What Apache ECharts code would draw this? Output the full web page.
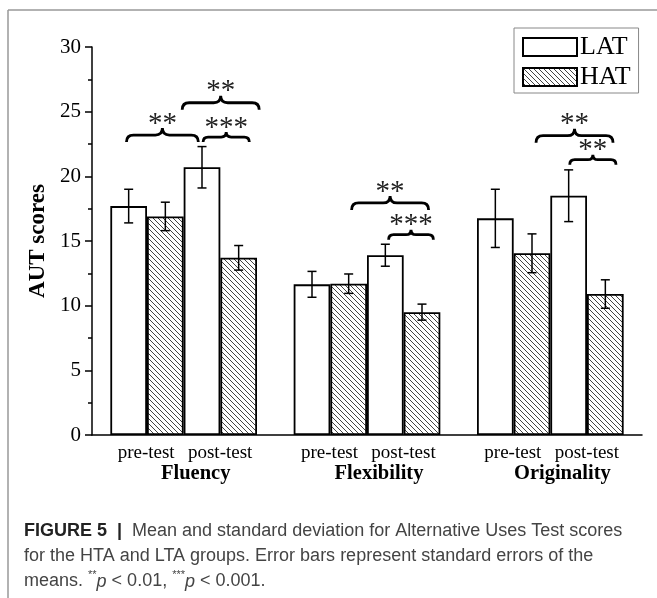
<!DOCTYPE html>
<html>
<head>
<meta charset="utf-8">
<script src="https://cdn.jsdelivr.net/npm/echarts@6/dist/echarts.min.js"></script>
<style>
  html, body { margin: 0; padding: 0; background: #fff; }
  #chart { width: 657px; height: 598px; }
</style>
</head>
<body>
<div id="chart"></div>
<script>
// Alternative Uses Test scores by dimension, session and group
const groups = ['Fluency', 'Flexibility', 'Originality'];
const sessions = ['pre-test', 'post-test'];

const latPre = [17.7, 11.65, 16.75];
const latPreErr = [1.3, 1.0, 2.25];
const hatPre = [16.9, 11.7, 14.05];
const hatPreErr = [1.1, 0.75, 1.5];
const latPost = [20.7, 13.9, 18.5];
const latPostErr = [1.6, 0.85, 2.0];
const hatPost = [13.7, 9.5, 10.9];
const hatPostErr = [0.95, 0.62, 1.1];

const yMin = 0, yMax = 30, yStep = 5;

// Significance braces: group, start/end (in bar widths from the group's left edge), height of the tips, stars
const sigGroup = [0, 0, 0, 1, 1, 2, 2];
const sigFrom = [0.44, 2.53, 1.96, 1.58, 2.59, 1.61, 2.53];
const sigTo = [2.4, 3.79, 4.06, 3.68, 3.81, 3.71, 3.79];
const sigLevel = [22.65, 22.65, 25.15, 17.4, 15.1, 22.6, 20.9];
const sigText = ['**', '***', '**', '**', '***', '**', '**'];

const SERIF = '"Liberation Serif", "Times New Roman", serif';
const SANS = '"Liberation Sans", Arial, sans-serif';

// Diagonal hatch used for the HAT group
function makeHatch() {
  const s = 5;
  const c = document.createElement('canvas');
  c.width = s; c.height = s;
  const g = c.getContext('2d');
  g.fillStyle = '#fff';
  g.fillRect(0, 0, s, s);
  g.strokeStyle = '#444';
  g.lineWidth = 1;
  g.beginPath();
  for (let k = -1; k <= 1; k++) {
    g.moveTo(k * s - 1, -1);
    g.lineTo(k * s + s + 1, s + 1);
  }
  g.stroke();
  return c;
}
const hatch = { image: makeHatch(), repeat: 'repeat' };

const barStyleLAT = { color: '#fff', borderColor: '#000', borderWidth: 1.8 };
const barStyleHAT = { color: hatch, borderColor: '#000', borderWidth: 1.8 };

// bar slot k (0..3) within a group: LAT pre, HAT pre, LAT post, HAT post
const barSeries = [
  { name: 'LAT', values: latPre, style: barStyleLAT },
  { name: 'HAT', values: hatPre, style: barStyleHAT },
  { name: 'LAT', values: latPost, style: barStyleLAT },
  { name: 'HAT', values: hatPost, style: barStyleHAT }
];
const barErrs = [latPreErr, hatPreErr, latPostErr, hatPostErr];

const errData = [];
barSeries.forEach((s, k) => {
  s.values.forEach((v, i) => {
    errData.push([i, k, v - barErrs[k][i], v + barErrs[k][i]]);
  });
});

const CAT_GAP = 0.2;            // barCategoryGap
const SLOT = (1 - CAT_GAP) / 4; // one bar's share of the band

function slotX(api, gi, u) {
  const c = api.coord([gi, 0])[0];
  const band = api.size([1, 0])[0];
  return c + (u - 2) * SLOT * band;
}

const option = {
  animation: false,
  backgroundColor: '#fff',
  grid: { left: 92, right: 15, top: 47, bottom: 163, outerBoundsMode: 'none', containLabel: false },
  legend: {
    data: ['LAT', 'HAT'],
    orient: 'vertical',
    left: 514,
    top: 28,
    padding: [6, 8, 3, 8],
    itemGap: 4,
    itemWidth: 54,
    itemHeight: 18,
    icon: 'rect',
    borderColor: '#888',
    borderWidth: 1,
    selectedMode: false,
    textStyle: { fontFamily: SERIF, fontSize: 26, color: '#000', padding: [0, 0, 0, -2] }
  },
  xAxis: {
    type: 'category',
    data: groups,
    axisLine: { lineStyle: { color: '#000', width: 1.5 } },
    axisTick: { alignWithLabel: true, length: 8, lineStyle: { color: '#000', width: 1.5 } },
    axisLabel: {
      margin: 8,
      interval: 0,
      formatter: (v) => `{p|${sessions[0]}}{s|}{q|${sessions[1]}}\n{g|${v}}`,
      rich: {
        p: { width: 65, align: 'right', fontFamily: SERIF, fontSize: 19, color: '#000', lineHeight: 20 },
        s: { width: 8 },
        q: { width: 67, align: 'left', fontFamily: SERIF, fontSize: 19, color: '#000', lineHeight: 20 },
        g: { fontFamily: SERIF, fontSize: 20.5, fontWeight: 'bold', color: '#000', lineHeight: 21, padding: [0, 0, 0, 24] }
      }
    }
  },
  yAxis: {
    type: 'value',
    min: yMin,
    max: yMax,
    interval: yStep,
    name: 'AUT scores',
    nameLocation: 'middle',
    nameRotate: 90,
    nameGap: 42,
    nameTextStyle: { fontFamily: SERIF, fontSize: 23, fontWeight: 'bold', color: '#000' },
    axisLine: { show: true, lineStyle: { color: '#000', width: 1.5 } },
    axisTick: { show: true, inside: false, length: 7, lineStyle: { color: '#000', width: 1.5 } },
    minorTick: { show: true, splitNumber: 2, length: 4, lineStyle: { color: '#000', width: 1.5 } },
    splitLine: { show: false },
    axisLabel: { margin: 11, fontFamily: SERIF, fontSize: 21, color: '#000' }
  },
  series: [
    ...barSeries.map((s) => ({
      type: 'bar',
      name: s.name,
      data: s.values,
      itemStyle: s.style,
      barGap: '0%',
      barCategoryGap: (CAT_GAP * 100) + '%',
      z: 2
    })),
    {
      type: 'custom',
      name: 'error',
      z: 5,
      clip: false,
      data: errData,
      encode: { x: 0, y: [2, 3] },
      renderItem: (params, api) => {
        const gi = api.value(0), k = api.value(1);
        const x = slotX(api, gi, k + 0.5);
        const yLo = api.coord([gi, api.value(2)])[1];
        const yHi = api.coord([gi, api.value(3)])[1];
        const cap = 4.5;
        const st = { stroke: '#000', lineWidth: 1.5, fill: null };
        return {
          type: 'group',
          children: [
            { type: 'line', shape: { x1: x, y1: yLo, x2: x, y2: yHi }, style: st },
            { type: 'line', shape: { x1: x - cap, y1: yHi, x2: x + cap, y2: yHi }, style: st },
            { type: 'line', shape: { x1: x - cap, y1: yLo, x2: x + cap, y2: yLo }, style: st }
          ]
        };
      }
    },
    {
      type: 'custom',
      name: 'significance',
      z: 6,
      clip: false,
      data: sigGroup.map((g, i) => [g, sigLevel[i]]),
      encode: { x: 0, y: 1 },
      renderItem: (params, api) => {
        const i = params.dataIndex;
        const gi = sigGroup[i];
        const xa = slotX(api, gi, sigFrom[i]);
        const xb = slotX(api, gi, sigTo[i]);
        const xm = (xa + xb) / 2;
        const yb = api.coord([gi, sigLevel[i]])[1];
        // narrow braces are drawn a little flatter
        const h = (xb - xa) < 55 ? 5 : 7;
        const yf = yb - h, yp = yb - 2 * h;
        const d = `M${xa},${yb} Q${xa},${yf} ${xa + h},${yf} L${xm - h},${yf} ` +
                  `Q${xm},${yf} ${xm},${yp} Q${xm},${yf} ${xm + h},${yf} ` +
                  `L${xb - h},${yf} Q${xb},${yf} ${xb},${yb}`;
        return {
          type: 'group',
          children: [
            { type: 'path', shape: { pathData: d }, style: { stroke: '#000', lineWidth: 2.8, fill: null } },
            {
              type: 'text',
              style: {
                text: sigText[i], x: xm, y: yp - 4,
                align: 'center', verticalAlign: 'middle',
                font: '29px ' + SERIF, fill: '#222'
              }
            }
          ]
        };
      }
    }
  ],
  graphic: [
    { type: 'line', shape: { x1: 8, y1: 10, x2: 657, y2: 10 }, style: { stroke: '#999', lineWidth: 1.5 } },
    { type: 'line', shape: { x1: 8, y1: 10, x2: 8, y2: 598 }, style: { stroke: '#999', lineWidth: 1.5 } },
    {
      type: 'text',
      left: 24,
      top: 519,
      style: {
        text: '{b|FIGURE 5}{b|  |  }Mean and standard deviation for Alternative Uses Test scores\n' +
              'for the HTA and LTA groups. Error bars represent standard errors of the\n' +
              'means. {sup|**}{i|p} < 0.01, {sup|***}{i|p} < 0.001.',
        fontFamily: SANS,
        fontSize: 18,
        lineHeight: 25,
        fill: '#444',
        rich: {
          b: { fontFamily: SANS, fontSize: 18, fontWeight: 'bold', fill: '#222', lineHeight: 25 },
          i: { fontFamily: SANS, fontSize: 18, fontStyle: 'italic', fill: '#444', lineHeight: 25 },
          sup: { fontFamily: SANS, fontSize: 11, fill: '#444', verticalAlign: 'top', lineHeight: 19 }
        }
      }
    }
  ]
};

const chart = echarts.init(document.getElementById('chart'), null, { renderer: 'canvas' });
chart.setOption(option);
</script>
</body>
</html>
